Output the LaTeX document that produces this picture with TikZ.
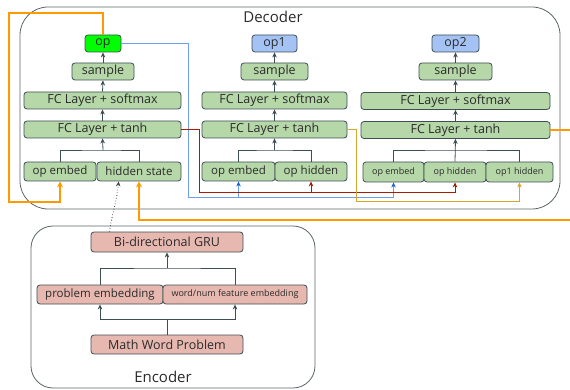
\documentclass[tikz,border=0pt]{standalone}
\usepackage{fontspec}
\setmainfont{Open Sans}
\usetikzlibrary{arrows.meta,calc}
\definecolor{gfill}{HTML}{B6D7A8}
\definecolor{bord}{HTML}{3E4E55}
\definecolor{opgreen}{HTML}{00FF00}
\definecolor{opblue}{HTML}{A4C2F4}
\definecolor{pink}{HTML}{E6B8AF}
\definecolor{frame}{HTML}{5A666A}
\definecolor{orng}{HTML}{FF9900}
\definecolor{bl}{HTML}{6D9EEB}
\definecolor{blh}{HTML}{1C5FD6}
\definecolor{rd}{HTML}{A61C00}
\definecolor{gld}{HTML}{D4A72C}
\definecolor{txt}{HTML}{2B2B2B}
\tikzset{
  box/.style={draw=bord, line width=0.8pt, rounded corners=3pt, inner sep=0pt, text=txt, font=\fontsize{12.5}{13}\selectfont},
  gbox/.style={box, fill=gfill},
  pbox/.style={box, fill=pink},
  mid/.style={font=\fontsize{11.5}{12}\selectfont},
  small/.style={font=\fontsize{9}{10}\selectfont},
  arr/.style={draw=bord, line width=0.8pt, -{Stealth[length=5pt,width=4.5pt,inset=1.5pt]}},
  ln/.style={draw=bord, line width=0.8pt},
  oline/.style={draw=orng, line width=2pt},
  oarr/.style={oline, -{Stealth[length=6pt,width=6pt,inset=2pt]}},
  barr/.style={draw=bl, line width=1pt, -{Stealth[length=5pt,width=4.5pt,inset=1.5pt,color=blh]}},
  rarr/.style={draw=rd, line width=1pt, -{Stealth[length=5pt,width=4.5pt,inset=1.5pt]}},
  garr/.style={draw=gld, line width=1pt, -{Stealth[length=5pt,width=4.5pt,inset=1.5pt]}},
  frm/.style={draw=frame, line width=0.8pt},
  lab/.style={text=txt, font=\fontsize{15}{16}\selectfont},
}
\begin{document}
\begin{tikzpicture}[x=1pt,y=-1pt]
\useasboundingbox (0,0) rectangle (570,390);
% frames
\draw[frm, rounded corners=28pt] (20,7) rectangle (560,209);
\draw[frm, rounded corners=22pt] (31,226) rectangle (315,388);
\node[lab] (declab) at (273,17) {Decoder};
\node[lab] (enclab) at (163,377) {Encoder};
% column 1
\node[gbox, fill=opgreen, minimum width=36pt, minimum height=17pt] (op) at (103,43.5) {op};
\node[gbox, minimum width=62pt, minimum height=17pt] (s1) at (103,71.5) {sample};
\node[gbox, minimum width=157pt, minimum height=17pt] (sm1) at (102.5,100.5) {FC Layer + softmax};
\node[gbox, minimum width=157pt, minimum height=17pt] (th1) at (102.5,129.5) {FC Layer + tanh};
\node[gbox, mid, minimum width=72pt, minimum height=19pt] (oe1) at (60,171.5) {op embed};
\node[gbox, mid, minimum width=84pt, minimum height=19pt] (hs1) at (139,171.5) {hidden state};
% column 2
\node[gbox, fill=opblue, minimum width=45pt, minimum height=17pt] (op1) at (274.5,43.5) {op1};
\node[gbox, minimum width=67pt, minimum height=17pt] (s2) at (274.5,71.5) {sample};
\node[gbox, minimum width=145pt, minimum height=17pt] (sm2) at (274.5,100.5) {FC Layer + softmax};
\node[gbox, minimum width=145pt, minimum height=17pt] (th2) at (274.5,129.5) {FC Layer + tanh};
\node[gbox, mid, minimum width=73pt, minimum height=19pt] (oe2) at (238.5,171.5) {op embed};
\node[gbox, mid, minimum width=72pt, minimum height=19pt] (oh2) at (311,171.5) {op hidden};
% column 3
\node[gbox, fill=opblue, minimum width=47pt, minimum height=17pt] (op2) at (455.5,43.5) {op2};
\node[gbox, minimum width=73pt, minimum height=17pt] (s3) at (455.5,71.5) {sample};
\node[gbox, minimum width=189pt, minimum height=17pt] (sm3) at (455.5,101) {FC Layer + softmax};
\node[gbox, minimum width=189pt, minimum height=17pt] (th3) at (455.5,130) {FC Layer + tanh};
\node[gbox, small, minimum width=61pt, minimum height=20pt] (oe3) at (393.5,172) {op embed};
\node[gbox, small, minimum width=62pt, minimum height=20pt] (oh3) at (455,172) {op hidden};
\node[gbox, small, minimum width=67pt, minimum height=20pt] (o1h3) at (519.5,172) {op1 hidden};
% encoder
\node[pbox, minimum width=152pt, minimum height=20pt] (gru) at (167,242) {Bi-directional GRU};
\node[pbox, mid, minimum width=126pt, minimum height=19pt] (pe) at (100,294.5) {problem embedding};
\node[pbox, small, minimum width=144pt, minimum height=19pt] (wn) at (235,294.5) {word/num feature embedding};
\node[pbox, minimum width=152pt, minimum height=19pt] (mwp) at (167,344.5) {Math Word Problem};
% vertical stacks
\foreach \a/\b in {s1/op,sm1/s1,th1/sm1,s2/op1,sm2/s2,th2/sm2,s3/op2,sm3/s3,th3/sm3}
  \draw[arr] (\a.north) -- (\b.south);
% branches decoder
\coordinate (j1) at (103,150);
\coordinate (j2) at (274.5,150);
\draw[ln] (oe1.north) |- (j1) -| (hs1.north);
\draw[arr] (j1) -- (th1.south);
\draw[ln] (oe2.north) |- (j2) -| (oh2.north);
\draw[arr] (j2) -- (th2.south);
\draw[ln] (oe3.north) |- (th3.south |- j1) -| (o1h3.north);
\draw[arr] (oh3.north) -- (th3.south);
% branches encoder
\coordinate (e1) at (167,268);
\coordinate (e2) at (167,319);
\draw[ln] (pe.north) |- (e1) -| (wn.north);
\draw[arr] (e1) -- (gru.south);
\draw[ln] (mwp.north) -- (e2);
\draw[arr] (e2) -| (pe.south);
\draw[arr] (e2) -| (wn.south);
% dotted
\draw[draw=bord, line width=0.8pt, dotted, -{Stealth[length=5pt,width=4.5pt,inset=1.5pt]}]
  ([xshift=19pt]gru.north west) to[out=82,in=-95] ([xshift=22pt]hs1.south west);
% orange feedback
\coordinate (oc1) at (9,13);
\coordinate (oc2) at (9,202);
\draw[oarr] (op.north) |- (oc1) -- (oc2) -| (oe1.south);
\coordinate (redge1) at (570,130);
\coordinate (redge2) at (570,220);
\draw[oline] (th3.east) -- (redge1);
\draw[oarr] (redge2) -| (hs1.south);
% blue
\coordinate (bc) at (188,198);
\draw[barr] (op.east) -| (bc) -| (oe3.south);
\draw[barr] (bc -| oe2.south) -- (oe2.south);
% red
\coordinate (rc) at (199,193);
\draw[rarr] (th1.east) -| (rc) -| (oh3.south);
\draw[rarr] (rc -| oh2.south) -- (oh2.south);
% gold
\coordinate (gc) at (356.5,202);
\draw[garr] (th2.east) -| (gc) -| (o1h3.south);
\end{tikzpicture}
\end{document}
